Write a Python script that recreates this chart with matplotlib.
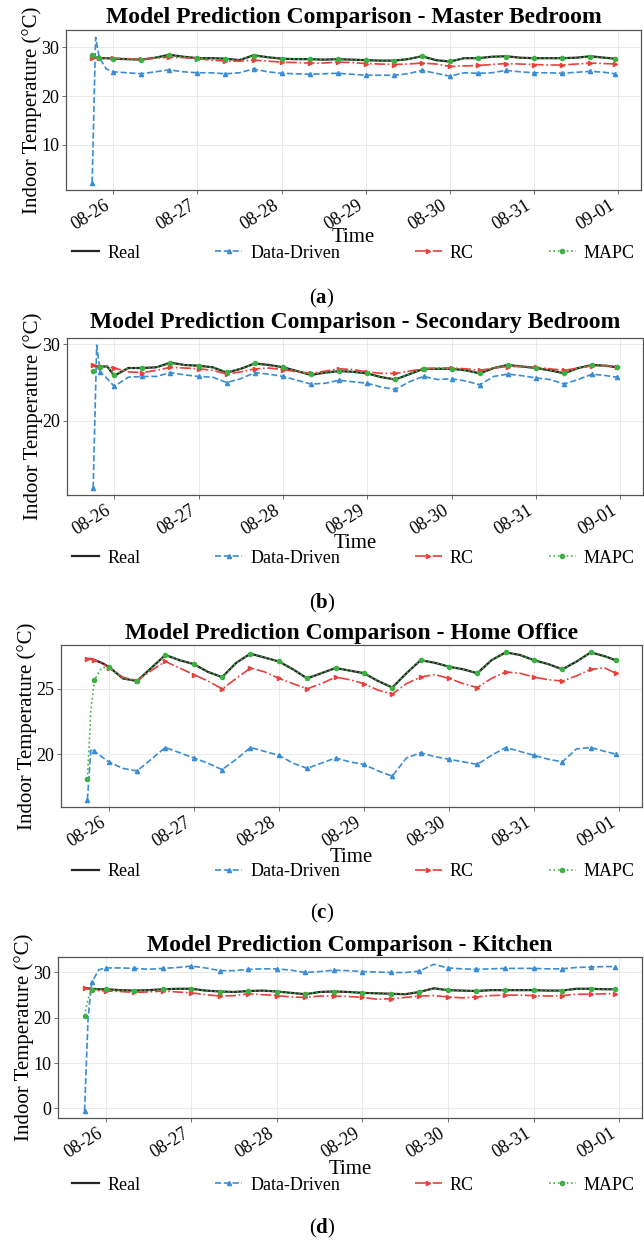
import matplotlib
matplotlib.use("Agg")
import matplotlib.pyplot as plt
import matplotlib.dates as mdates
import pandas as pd

plt.rcParams['font.family'] = ['Liberation Serif', 'DejaVu Serif']
plt.rcParams['mathtext.fontset'] = 'custom'
plt.rcParams['mathtext.bf'] = 'Liberation Serif:bold'

# time stamps: a few early points, then every 4 hours
times = pd.to_datetime(['2023-08-25 18:00', '2023-08-25 19:00', '2023-08-25 20:00', '2023-08-25 22:00']
                       + list(pd.date_range('2023-08-26 00:00', '2023-08-31 20:00', freq='4h'))
                       + ['2023-08-31 23:00'])

rooms = ['Master Bedroom', 'Secondary Bedroom', 'Home Office', 'Kitchen']
series_names = ['Real', 'Data-Driven', 'RC', 'MAPC']
panel_letters = ['a', 'b', 'c', 'd']

real_a = [28.0, 27.9, 27.8, 27.8,
          27.7, 27.6, 27.5, 27.9, 28.5, 28.1,
          27.8, 27.8, 27.7, 27.4, 28.4, 28.0,
          27.7, 27.6, 27.6, 27.5, 27.6, 27.5,
          27.4, 27.3, 27.3, 27.6, 28.2, 27.4,
          27.1, 27.8, 27.8, 28.1, 28.2, 27.9,
          27.8, 27.8, 27.8, 27.9, 28.2, 27.9,
          27.7]
dd_a = [2.2, 32.1, 28.0, 25.6,
        25.0, 24.8, 24.6, 25.0, 25.4, 25.0,
        24.8, 24.8, 24.6, 24.8, 25.6, 25.0,
        24.7, 24.6, 24.5, 24.6, 24.7, 24.5,
        24.3, 24.3, 24.3, 24.6, 25.3, 24.7,
        24.1, 24.8, 24.7, 24.8, 25.3, 25.0,
        24.8, 24.8, 24.7, 24.9, 25.1, 24.9,
        24.6]
rc_a = [27.8, 27.8, 27.8, 27.8,
        27.8, 27.7, 27.6, 27.8, 28.0, 27.9,
        27.7, 27.4, 27.2, 27.2, 27.4, 27.2,
        27.0, 26.9, 26.8, 26.8, 27.0, 26.9,
        26.7, 26.6, 26.5, 26.6, 26.8, 26.6,
        26.1, 26.2, 26.3, 26.5, 26.7, 26.6,
        26.5, 26.4, 26.4, 26.6, 26.8, 26.7,
        26.6]
mapc_a = [28.5, 28.1, 27.9, 27.8,
          27.7, 27.6, 27.5, 27.9, 28.4, 28.1,
          27.8, 27.8, 27.7, 27.5, 28.3, 28.0,
          27.7, 27.6, 27.6, 27.5, 27.6, 27.5,
          27.4, 27.3, 27.3, 27.6, 28.2, 27.5,
          27.2, 27.8, 27.8, 28.1, 28.1, 27.9,
          27.8, 27.8, 27.8, 27.9, 28.1, 27.9,
          27.7]

real_b = [27.2, 27.1, 27.1, 27.1,
          25.9, 26.9, 26.9, 27.0, 27.6, 27.3,
          27.2, 27.0, 26.3, 26.8, 27.5, 27.3,
          27.0, 26.5, 26.0, 26.3, 26.5, 26.4,
          26.2, 25.7, 25.4, 26.1, 26.8, 26.8,
          26.8, 26.6, 26.2, 26.9, 27.3, 27.1,
          26.9, 26.6, 26.2, 26.9, 27.3, 27.2,
          27.0]
dd_b = [11.2, 29.9, 26.4, 25.5,
        24.5, 25.7, 25.8, 25.8, 26.3, 26.0,
        25.8, 25.7, 25.0, 25.5, 26.3, 26.1,
        25.8, 25.3, 24.8, 24.9, 25.3, 25.1,
        24.9, 24.4, 24.1, 25.1, 25.8, 25.4,
        25.5, 25.2, 24.7, 25.8, 26.1, 25.9,
        25.6, 25.4, 24.8, 25.4, 26.1, 25.9,
        25.7]
rc_b = [27.3, 27.2, 27.1, 27.1,
        26.9, 26.4, 26.3, 26.6, 27.0, 26.9,
        26.8, 26.6, 26.1, 26.4, 26.8, 26.9,
        26.7, 26.4, 26.2, 26.5, 26.8, 26.7,
        26.4, 26.2, 26.2, 26.5, 26.8, 26.9,
        26.9, 26.8, 26.6, 26.9, 27.1, 27.1,
        27.0, 26.8, 26.6, 26.9, 27.2, 27.2,
        27.1]
mapc_b = [26.5, 26.9, 27.0, 27.1,
          26.0, 26.9, 26.9, 27.0, 27.5, 27.3,
          27.2, 27.0, 26.4, 26.8, 27.5, 27.2,
          27.0, 26.5, 26.1, 26.3, 26.5, 26.4,
          26.2, 25.7, 25.4, 26.1, 26.8, 26.8,
          26.8, 26.6, 26.2, 26.9, 27.3, 27.1,
          26.9, 26.6, 26.2, 26.9, 27.3, 27.1,
          27.0]

real_c = [27.3, 27.3, 27.2, 27.0,
          26.7, 25.8, 25.6, 26.6, 27.6, 27.2,
          26.9, 26.3, 25.9, 27.0, 27.7, 27.4,
          27.1, 26.5, 25.8, 26.2, 26.6, 26.4,
          26.2, 25.6, 25.1, 26.2, 27.2, 27.0,
          26.7, 26.5, 26.2, 27.2, 27.8, 27.6,
          27.2, 26.9, 26.5, 27.1, 27.8, 27.5,
          27.2]
dd_c = [16.5, 20.4, 20.2, 19.8,
        19.4, 18.9, 18.7, 19.6, 20.5, 20.1,
        19.7, 19.3, 18.8, 19.6, 20.5, 20.2,
        19.9, 19.3, 18.9, 19.3, 19.7, 19.4,
        19.2, 18.7, 18.3, 19.7, 20.1, 19.8,
        19.6, 19.4, 19.2, 19.9, 20.5, 20.2,
        19.9, 19.6, 19.4, 20.4, 20.5, 20.2,
        20.0]
rc_c = [27.3, 27.3, 27.2, 27.0,
        26.6, 25.9, 25.6, 26.4, 27.1, 26.6,
        26.1, 25.6, 25.0, 25.8, 26.6, 26.3,
        25.8, 25.4, 25.0, 25.4, 25.9, 25.7,
        25.4, 24.9, 24.6, 25.4, 25.9, 26.1,
        25.8, 25.4, 25.1, 25.8, 26.3, 26.2,
        25.9, 25.7, 25.6, 26.0, 26.5, 26.6,
        26.2]
mapc_c = [18.1, 23.4, 25.7, 26.6,
          26.7, 25.8, 25.6, 26.6, 27.6, 27.2,
          26.9, 26.3, 25.9, 27.0, 27.7, 27.4,
          27.1, 26.5, 25.8, 26.2, 26.6, 26.4,
          26.2, 25.6, 25.1, 26.2, 27.2, 27.0,
          26.7, 26.5, 26.2, 27.2, 27.8, 27.6,
          27.2, 26.9, 26.5, 27.1, 27.8, 27.5,
          27.2]

real_d = [26.6, 26.5, 26.4, 26.3,
          26.3, 26.1, 26.0, 26.1, 26.3, 26.4,
          26.4, 26.0, 25.8, 25.7, 25.9, 26.0,
          25.8, 25.5, 25.2, 25.7, 25.8, 25.7,
          25.5, 25.4, 25.3, 25.2, 25.7, 26.5,
          26.1, 26.0, 25.9, 26.1, 26.1, 26.1,
          26.1, 26.0, 26.0, 26.4, 26.4, 26.3,
          26.3]
dd_d = [-0.5, 20.0, 27.8, 30.6,
        31.0, 31.0, 30.9, 30.7, 30.9, 31.1,
        31.4, 31.0, 30.4, 30.4, 30.7, 30.8,
        30.8, 30.5, 30.0, 30.2, 30.5, 30.4,
        30.2, 30.1, 30.0, 30.0, 30.3, 31.8,
        31.0, 30.8, 30.7, 30.8, 30.9, 30.9,
        30.9, 30.8, 30.8, 31.1, 31.2, 31.3,
        31.3]
rc_d = [26.5, 26.4, 26.2, 26.0,
        25.9, 25.8, 25.6, 25.7, 25.9, 25.7,
        25.5, 25.1, 24.8, 24.9, 25.3, 25.1,
        24.9, 24.6, 24.5, 24.8, 24.8, 24.7,
        24.5, 24.1, 24.2, 24.5, 24.8, 24.9,
        24.6, 24.4, 24.6, 24.9, 25.0, 25.0,
        24.9, 24.8, 24.9, 25.2, 25.2, 25.3,
        25.3]
mapc_d = [20.5, 24.2, 26.2, 26.4,
          26.3, 26.1, 26.0, 26.1, 26.3, 26.4,
          26.3, 26.0, 25.8, 25.7, 25.9, 26.0,
          25.8, 25.5, 25.3, 25.7, 25.8, 25.7,
          25.5, 25.4, 25.3, 25.3, 25.7, 26.4,
          26.1, 26.0, 25.9, 26.1, 26.1, 26.1,
          26.1, 26.0, 26.0, 26.3, 26.4, 26.3,
          26.3]

panel_data = [
    (real_a, dd_a, rc_a, mapc_a),
    (real_b, dd_b, rc_b, mapc_b),
    (real_c, dd_c, rc_c, mapc_c),
    (real_d, dd_d, rc_d, mapc_d),
]
panel_yticks = [[10, 20, 30], [20, 30], [20, 25], [0, 10, 20, 30]]

# styles for Real, Data-Driven, RC, MAPC
styles = [
    dict(color='#262626', ls='-', lw=1.6, marker=None),
    dict(color='#3a8dd4', ls='--', lw=1.2, marker='^'),
    dict(color='#e8403a', ls='-.', lw=1.2, marker='>'),
    dict(color='#3cb043', ls=':', lw=1.2, marker='o'),
]

W, H = 644, 1245
fig = plt.figure(figsize=(W / 100, H / 100), dpi=100)

# panel boxes in pixels: left, top, right, bottom ; plus text rows
boxes = [(66, 30, 641, 190), (67, 338, 643, 495), (61, 645, 642, 807), (58, 957, 642, 1118)]
title_y = [18, 323, 633, 945]
time_y = [238, 543, 857, 1170]
legend_y = [253, 558, 872, 1185]
letter_y = [298, 603, 913, 1228]

for i in range(4):
    l, t, r, b = boxes[i]
    ax = fig.add_axes([l / W, 1 - b / H, (r - l) / W, (b - t) / H])
    for name, vals, st in zip(series_names, panel_data[i], styles):
        ax.plot(times, vals, color=st['color'], ls=st['ls'], lw=st['lw'],
                marker=st['marker'], markersize=3, markevery=2, label=name)
    ax.set_yticks(panel_yticks[i])
    ax.xaxis.set_major_locator(mdates.DayLocator())
    ax.xaxis.set_major_formatter(mdates.DateFormatter('%m-%d'))
    for lab in ax.get_xticklabels():
        lab.set_rotation(32)
        lab.set_ha('right')
    ax.tick_params(labelsize=13, length=3, width=0.6, color='#555555', pad=2)
    ax.grid(True, color='#e6e6e6', lw=0.6)
    for sp in ax.spines.values():
        sp.set_color('#555555')
        sp.set_linewidth(0.9)

    cx = (l + r) / 2 / W
    fig.text(cx, 1 - title_y[i] / H, 'Model Prediction Comparison - ' + rooms[i],
             ha='center', va='center', fontsize=17, fontweight='bold')
    fig.text((l - 34) / W, 1 - (t + b) / 2 / H, 'Indoor Temperature (°C)', rotation=90,
             ha='center', va='center', fontsize=15)
    fig.text(cx, 1 - time_y[i] / H, 'Time', ha='center', va='center', fontsize=15)
    fig.legend(*ax.get_legend_handles_labels(), loc='center', ncol=4, mode='expand',
               bbox_to_anchor=(65 / W, 1 - legend_y[i] / H, 577 / W, 0),
               frameon=False, fontsize=13, handlelength=1.5, handletextpad=0.45,
               borderaxespad=0)
    fig.text(0.5, 1 - letter_y[i] / H, r'($\mathbf{%s}$)' % panel_letters[i],
             ha='center', va='center', fontsize=15)

fig.savefig('out.png', dpi=100)
